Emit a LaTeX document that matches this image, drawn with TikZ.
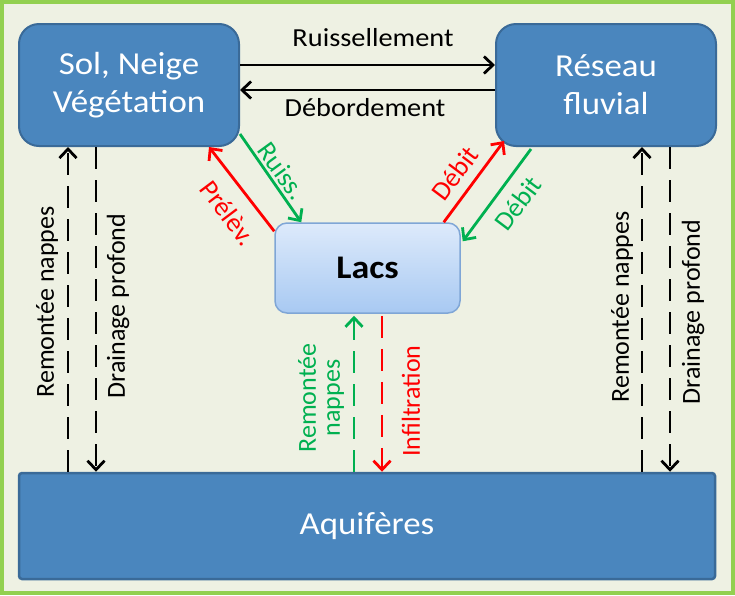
\documentclass[tikz,border=0pt]{standalone}
\usepackage{fontspec}
\setmainfont{Carlito}[FakeStretch=1.09]
\newfontfamily\plainfont{Carlito}
\usetikzlibrary{arrows.meta,calc}
\definecolor{bgc}{HTML}{EEF1E3}
\definecolor{framec}{HTML}{92D050}
\definecolor{boxblue}{HTML}{4A86BE}
\definecolor{boxedge}{HTML}{3A6A98}
\definecolor{lacstop}{HTML}{DDEAFB}
\definecolor{lacsbot}{HTML}{A8C9F2}
\definecolor{lacsedge}{HTML}{7FA6D6}
\definecolor{myred}{HTML}{FF0000}
\definecolor{mygreen}{HTML}{00B050}
\begin{document}
\begin{tikzpicture}[x=1pt,y=-1pt,
  bigbox/.style={draw=boxedge, line width=2pt, fill=boxblue, rounded corners=20pt,
    minimum width=220pt, minimum height=122pt, text=white,
    font=\fontsize{32}{38}\selectfont, align=center, inner sep=0pt},
  lacsbox/.style={draw=lacsedge, line width=1.5pt, top color=lacstop, bottom color=lacsbot,
    rounded corners=12pt, minimum width=185pt, minimum height=90pt,
    font=\bfseries\fontsize{33}{38}\selectfont, inner sep=0pt},
  aqbox/.style={draw=boxedge, line width=2.5pt, fill=boxblue, rounded corners=3pt,
    minimum width=696pt, minimum height=106pt, text=white,
    font=\fontsize{32}{38}\selectfont, inner sep=0pt},
  flow/.style={line width=2.8pt, -{Straight Barb[length=9pt,width=17pt]}},
  dashflow/.style={flow, dash pattern=on 22pt off 11pt},
  lab/.style={font=\fontsize{26}{24}\selectfont, inner sep=0pt, align=center},
  vlab/.style={font=\plainfont\fontsize{26}{24}\selectfont, inner sep=0pt, align=center},
  dlab/.style={font=\plainfont\fontsize{27}{24}\selectfont, inner sep=0pt, align=center},
]
\useasboundingbox (0,0) rectangle (735,595);
\draw[draw=framec, line width=4pt, fill=bgc] (2,2) rectangle (733,593);

% boxes
\node[bigbox] (sol) at (129,85) {Sol, Neige\\Végétation};
\node[bigbox] (res) at (606,85) {Réseau\\fluvial};
\node[lacsbox] (lacs) at (367.5,268) {Lacs};
\node[aqbox] (aq) at (367,526) {Aquifères};

% horizontal arrows
\draw[flow] ([yshift=20pt]sol.east) -- ([yshift=20pt]res.west);
\draw[flow] ([yshift=-5pt]res.west) -- ([yshift=-5pt]sol.east);
\node[lab] (lruis) at (373,38) {Ruissellement};
\node[lab] (ldeb) at (365,108) {Débordement};

% vertical side arrows
\coordinate (xL1) at (68,0);
\coordinate (xL2) at (96,0);
\coordinate (xR1) at (642,0);
\coordinate (xR2) at (670,0);
\coordinate (xC1) at (354,0);
\coordinate (xC2) at (382,0);
\draw[dashflow] (aq.north -| xL1) -- (sol.south -| xL1);
\draw[dashflow] (sol.south -| xL2) -- (aq.north -| xL2);
\draw[dashflow] (aq.north -| xR1) -- (res.south -| xR1);
\draw[dashflow] (res.south -| xR2) -- (aq.north -| xR2);
\node[vlab, rotate=90] (lrl) at (47,302) {Remontée nappes};
\node[vlab, rotate=90] (ldl) at (118,306) {Drainage profond};
\node[vlab, rotate=90] (lrr) at (622,307) {Remontée nappes};
\node[vlab, rotate=90] (ldr) at (693,312) {Drainage profond};

% central vertical arrows
\draw[dashflow, mygreen] (aq.north -| xC1) -- ([yshift=-2pt]lacs.south -| xC1);
\draw[dashflow, myred] ([yshift=-2pt]lacs.south -| xC2) -- (aq.north -| xC2);
\node[vlab, rotate=90, text=mygreen] (lrc) at (321,398) {Remontée\\nappes};
\node[vlab, rotate=90, text=myred] (linf) at (411,401) {Infiltration};

% diagonal arrows
\draw[flow, myred] ([yshift=-9pt]lacs.north west) -- ([xshift=-31pt]sol.south east);
\draw[flow, mygreen] ([yshift=13pt]sol.south east) -- ([xshift=27pt]lacs.north west);
\draw[flow, myred] ([xshift=-17pt]lacs.north east) -- ([shift={(9pt,6pt)}]res.south west);
\draw[flow, mygreen] ([xshift=36pt,yshift=-2pt]res.south west) -- ([shift={(2pt,-19pt)}]lacs.north east);
\node[dlab, rotate=-53, text=myred] (lprel) at (228,213) {Prélèv.};
\node[dlab, rotate=-54, text=mygreen] (lruiss) at (282,171) {Ruiss.};
\node[dlab, rotate=53, text=myred] (ldebr) at (455,173) {Débit};
\node[dlab, rotate=53, text=mygreen] (ldebg) at (518,203) {Débit};
\end{tikzpicture}
\end{document}
